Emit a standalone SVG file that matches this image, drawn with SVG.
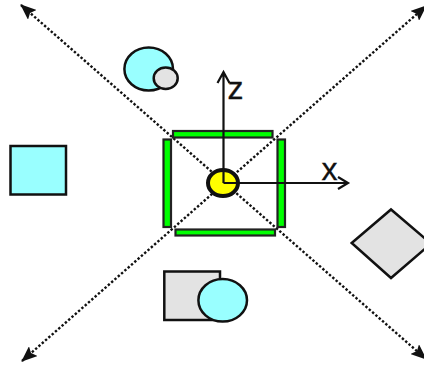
<svg xmlns="http://www.w3.org/2000/svg" width="424" height="366" viewBox="0 0 424 366">
<style>
.s{stroke:#111;stroke-width:2.500}
.cy{fill:#99ffff}
.gr{fill:#e3e3e3}
.g{fill:#00ff00;stroke:#222;stroke-width:2.200}
.d{fill:none;stroke:#111;stroke-width:2.400;stroke-dasharray:2.400 2}
.a{fill:none;stroke:#111;stroke-width:2.200}
text{font-family:"Liberation Sans",Arial,sans-serif;font-size:32px;fill:#111;stroke:#111;stroke-width:.3}
</style>
<defs>
<marker id="h" viewBox="0 0 16 13" refX="15" refY="6.500" markerWidth="16" markerHeight="13" markerUnits="userSpaceOnUse" orient="auto-start-reverse"><path d="M0 0L16 6.500L0 13L3 6.500Z" fill="#111"/></marker>
</defs>
<rect width="424" height="366" fill="#fff"/>
<g id="connectors">
<path class="d" d="M21 5L426 359" marker-start="url(#h)" marker-end="url(#h)"/>
<path class="d" d="M22 361L426 6" marker-start="url(#h)" marker-end="url(#h)"/>
</g>
<g id="bar-top"><rect class="g" x="173" y="131" width="99.500" height="6.500"/></g>
<g id="bar-left"><rect class="g" x="163.500" y="139.500" width="7.500" height="87.500"/></g>
<g id="bar-right"><rect class="g" x="277.500" y="139.500" width="7.500" height="87.500"/></g>
<g id="bar-bottom"><rect class="g" x="175.500" y="229.500" width="99.500" height="6"/></g>
<g id="center"><ellipse cx="223" cy="183" rx="15" ry="13" fill="#ffff00" stroke="#111" stroke-width="4"/></g>
<g id="axes">
<path class="a" d="M223.500 183V72M217.500 83L223.500 72L229.500 83"/>
<path class="a" d="M223.500 183H348M338 177L348 183L338 189"/>
<text x="227.500" y="99">z</text>
<text x="321.500" y="179.500">x</text>
</g>
<g id="node-top"><ellipse class="s cy" cx="148.700" cy="69" rx="24.300" ry="21.500"/><ellipse class="s gr" cx="165.700" cy="78.300" rx="12" ry="10.800"/></g>
<g id="node-left"><rect class="s cy" x="10.500" y="146" width="55.500" height="48.500"/></g>
<g id="node-right"><path class="s gr" d="M351.700 243L391 209.500L431 243.500L391 278Z"/></g>
<g id="node-bottom"><rect class="s gr" x="164.300" y="271.500" width="55.700" height="48.500"/><ellipse class="s cy" cx="222.700" cy="300.300" rx="24.300" ry="21.300"/></g>
</svg>
